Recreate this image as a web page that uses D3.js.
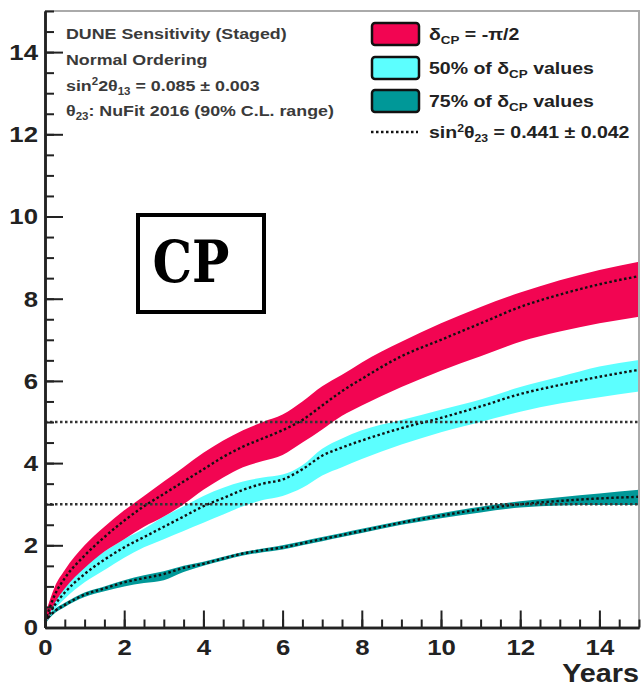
<!DOCTYPE html>
<html>
<head>
<meta charset="utf-8">
<script src="https://cdn.jsdelivr.net/npm/d3@7"></script>
<style>
  body { margin: 0; background: #fff; }
  text { font-family: "Liberation Sans", Arial, Helvetica, sans-serif; }
</style>
</head>
<body>
<div id="chart"></div>
<script>
// Exposure in years
const years = [0, 0.25, 0.5, 1, 1.5, 2, 2.5, 3, 3.5, 4, 4.5, 5, 5.5, 6, 6.5, 7, 7.5, 8, 9, 10, 11, 12, 13, 14, 15];

// delta_CP = -pi/2 band (sqrt(chi2))
const minusPiLow  = [0.05, 0.6, 0.95, 1.45, 1.85, 2.15, 2.45, 2.7, 3.0, 3.35, 3.65, 3.9, 4.05, 4.2, 4.5, 4.82, 5.15, 5.4, 5.85, 6.25, 6.6, 6.95, 7.2, 7.4, 7.56];
const minusPiHigh = [0.3, 1.0, 1.4, 2.0, 2.45, 2.85, 3.2, 3.55, 3.9, 4.25, 4.55, 4.8, 5.0, 5.18, 5.5, 5.87, 6.15, 6.45, 6.95, 7.4, 7.8, 8.15, 8.45, 8.7, 8.9];
const minusPiMid  = [0.15, 0.8, 1.2, 1.75, 2.2, 2.6, 2.95, 3.25, 3.55, 3.85, 4.15, 4.4, 4.6, 4.8, 5.05, 5.4, 5.75, 6.05, 6.6, 7.0, 7.4, 7.8, 8.1, 8.35, 8.55];

// 50% of delta_CP values
const half_Low  = [0.05, 0.45, 0.7, 1.1, 1.4, 1.7, 1.95, 2.15, 2.35, 2.55, 2.75, 2.95, 3.1, 3.2, 3.4, 3.7, 3.9, 4.1, 4.45, 4.75, 5.0, 5.25, 5.45, 5.6, 5.74];
const half_High = [0.2, 0.7, 1.05, 1.5, 1.85, 2.15, 2.4, 2.7, 2.95, 3.2, 3.4, 3.55, 3.65, 3.72, 3.95, 4.35, 4.6, 4.8, 5.05, 5.3, 5.55, 5.85, 6.1, 6.35, 6.51];
const half_Mid  = [0.1, 0.55, 0.85, 1.3, 1.65, 1.95, 2.2, 2.45, 2.7, 2.95, 3.15, 3.35, 3.5, 3.6, 3.85, 4.18, 4.38, 4.55, 4.85, 5.1, 5.38, 5.68, 5.9, 6.1, 6.27];

// 75% of delta_CP values
const q75Low  = [0.1, 0.35, 0.5, 0.74, 0.88, 1.0, 1.08, 1.15, 1.35, 1.5, 1.63, 1.75, 1.83, 1.9, 2.0, 2.1, 2.2, 2.3, 2.5, 2.66, 2.8, 2.92, 2.97, 2.98, 2.98];
const q75High = [0.2, 0.45, 0.6, 0.85, 1.0, 1.15, 1.27, 1.37, 1.5, 1.6, 1.72, 1.84, 1.92, 2.0, 2.1, 2.2, 2.3, 2.4, 2.6, 2.78, 2.94, 3.07, 3.17, 3.26, 3.35];
const q75Mid  = [0.15, 0.4, 0.55, 0.8, 0.95, 1.1, 1.2, 1.3, 1.45, 1.55, 1.68, 1.8, 1.88, 1.95, 2.05, 2.15, 2.25, 2.35, 2.55, 2.72, 2.88, 3.0, 3.08, 3.14, 3.18];

// 3 and 5 sigma reference levels
const sigmaLevels = [3, 5];

const xTicks = [0, 2, 4, 6, 8, 10, 12, 14];
const yTicks = [0, 2, 4, 6, 8, 10, 12, 14];

const W = 642, H = 690;
const plot = { left: 45, right: 639, top: 11, bottom: 627.5 };

const svg = d3.select('#chart').append('svg')
  .attr('width', W).attr('height', H);

const x = d3.scaleLinear().domain([0, 15]).range([plot.left, plot.right]);
const y = d3.scaleLinear().domain([0, 15]).range([plot.bottom, plot.top]);

const bands = [
  { lo: q75Low, hi: q75High, mid: q75Mid, color: '#009898' },
  { lo: half_Low, hi: half_High, mid: half_Mid, color: '#5cffff' },
  { lo: minusPiLow, hi: minusPiHigh, mid: minusPiMid, color: '#f20552' }
];

const area = d3.area().curve(d3.curveMonotoneX);
const line = d3.line().curve(d3.curveMonotoneX);

// Bands
bands.forEach(b => {
  svg.append('path')
    .attr('d', area.x((d, i) => x(years[i])).y0((d, i) => y(b.lo[i])).y1((d, i) => y(b.hi[i]))(years))
    .attr('fill', b.color);
});

// Dotted central curves
bands.forEach(b => {
  svg.append('path')
    .attr('d', line.x((d, i) => x(years[i])).y((d, i) => y(b.mid[i]))(years))
    .attr('fill', 'none')
    .attr('stroke', '#111')
    .attr('stroke-width', 2.4)
    .attr('stroke-dasharray', '2.5,2.5');
});

// Horizontal sigma lines
svg.selectAll('.sigma')
  .data(sigmaLevels)
  .enter()
  .append('line')
  .attr('x1', x(0)).attr('x2', x(15))
  .attr('y1', d => y(d)).attr('y2', d => y(d))
  .attr('stroke', '#333')
  .attr('stroke-width', 2.4)
  .attr('stroke-dasharray', '2.5,2.5');

// Frame (top and right in grey)
svg.append('path')
  .attr('d', `M${plot.left},${plot.top}H${plot.right}V${plot.bottom}`)
  .attr('fill', 'none').attr('stroke', '#aaa').attr('stroke-width', 2);

// Axes: major ticks with labels, minor ticks every 0.5
const minor = d3.range(0, 15.01, 0.5);

const xAxis = svg.append('g')
  .attr('transform', `translate(0,${plot.bottom})`)
  .call(d3.axisBottom(x).tickValues(xTicks).tickSizeInner(-17).tickSizeOuter(0).tickPadding(11).tickFormat(d3.format('d')));
svg.append('g')
  .attr('transform', `translate(0,${plot.bottom})`)
  .call(d3.axisBottom(x).tickValues(minor).tickSizeInner(-8).tickSizeOuter(0).tickFormat(''));

const yAxis = svg.append('g')
  .attr('transform', `translate(${plot.left},0)`)
  .call(d3.axisLeft(y).tickValues(yTicks).tickSizeInner(-18).tickSizeOuter(0).tickPadding(7).tickFormat(d3.format('d')));
svg.append('g')
  .attr('transform', `translate(${plot.left},0)`)
  .call(d3.axisLeft(y).tickValues(minor).tickSizeInner(-9).tickSizeOuter(0).tickFormat(''));

svg.selectAll('.domain').attr('stroke', '#222').attr('stroke-width', 2.5);
svg.selectAll('.tick line').attr('stroke', '#222').attr('stroke-width', 2);
svg.selectAll('.tick text')
  .attr('font-size', 23).attr('font-weight', 'bold').attr('fill', '#222')
  .style('font-family', '"Liberation Sans", Arial, sans-serif');
xAxis.selectAll('.tick text').attr('dy', '0.71em').attr('transform', 'scale(1.12,1)');
yAxis.selectAll('.tick text').attr('x', -7 / 1.12).attr('transform', 'scale(1.12,1)');

svg.append('text')
  .attr('transform', `translate(${plot.right},682) scale(1.15,1)`)
  .attr('text-anchor', 'end')
  .attr('font-size', 25).attr('font-weight', 'bold').attr('fill', '#222')
  .text('Years');

// helper: text line placed at (px,py), stretched horizontally (original font is wider)
function textAt(g, px, py, sx) {
  return g.append('text').attr('transform', `translate(${px},${py}) scale(${sx},1)`);
}

// Left info text
const info = svg.append('g').attr('font-size', 15.5).attr('font-weight', 'bold').attr('fill', '#3a3a3a');
textAt(info, 66, 39, 1.15).text('DUNE Sensitivity (Staged)');
textAt(info, 66, 65, 1.15).text('Normal Ordering');
const t3 = textAt(info, 66, 91, 1.15);
t3.append('tspan').text('sin');
t3.append('tspan').attr('font-size', 10).attr('dy', -6).text('2');
t3.append('tspan').attr('dy', 6).text('2θ');
t3.append('tspan').attr('font-size', 10).attr('dy', 4).text('13');
t3.append('tspan').attr('dy', -4).text(' = 0.085 ± 0.003');
const t4 = textAt(info, 66, 116, 1.15);
t4.append('tspan').text('θ');
t4.append('tspan').attr('font-size', 10).attr('dy', 4).text('23');
t4.append('tspan').attr('dy', -4).text(': NuFit 2016 (90% C.L. range)');

// Legend
const legendItems = [
  { color: '#f20552', label: [['δ', 0], ['CP', 1], [' = -π/2', 0]] },
  { color: '#5cffff', label: [['50% of δ', 0], ['CP', 1], [' values', 0]] },
  { color: '#009898', label: [['75% of δ', 0], ['CP', 1], [' values', 0]] }
];
const leg = svg.append('g').attr('font-size', 16).attr('font-weight', 'bold').attr('fill', '#222');
const rowY = [34, 68, 101, 132];
legendItems.forEach((it, i) => {
  leg.append('rect')
    .attr('x', 372).attr('y', rowY[i] - 11).attr('width', 47).attr('height', 22)
    .attr('rx', 3).attr('fill', it.color).attr('stroke', '#111').attr('stroke-width', 2.5);
  const t = textAt(leg, 429, rowY[i] + 6, 1.22);
  it.label.forEach(([s, sub], k) => {
    t.append('tspan').attr('font-size', sub ? 11 : null).attr('dy', sub ? 4 : (k === 0 ? 0 : -4)).text(s);
  });
});
leg.append('line')
  .attr('x1', 371).attr('x2', 418).attr('y1', rowY[3]).attr('y2', rowY[3])
  .attr('stroke', '#111').attr('stroke-width', 2.4).attr('stroke-dasharray', '2.5,2.5');
const t5 = textAt(leg, 429, rowY[3] + 6, 1.22);
t5.append('tspan').text('sin');
t5.append('tspan').attr('font-size', 10).attr('dy', -6).text('2');
t5.append('tspan').attr('dy', 6).text('θ');
t5.append('tspan').attr('font-size', 10).attr('dy', 4).text('23');
t5.append('tspan').attr('dy', -4).text(' = 0.441 ± 0.042');

// CP label box
svg.append('rect')
  .attr('x', 138).attr('y', 215).attr('width', 126).attr('height', 97)
  .attr('fill', '#fff').attr('stroke', '#000').attr('stroke-width', 4);
svg.append('text')
  .attr('x', 191).attr('y', 282)
  .attr('text-anchor', 'middle')
  .attr('font-size', 58).attr('font-weight', 'bold')
  .style('font-family', '"DejaVu Serif", "Liberation Serif", serif')
  .attr('textLength', 77).attr('lengthAdjust', 'spacingAndGlyphs')
  .text('CP');
</script>
</body>
</html>
